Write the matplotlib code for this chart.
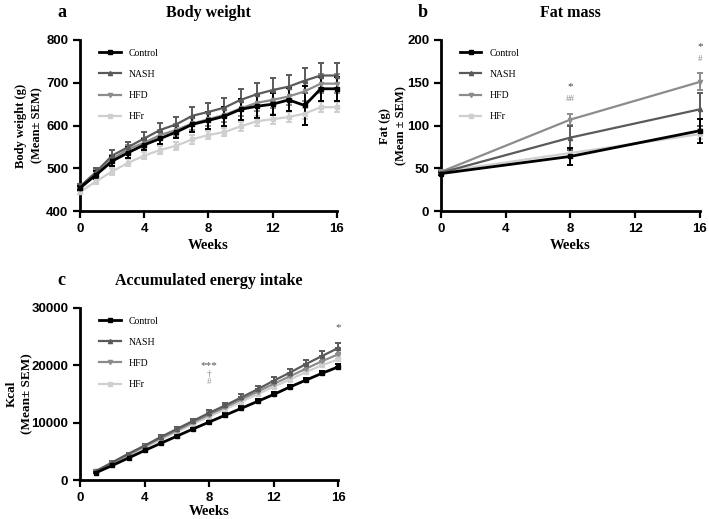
import matplotlib
matplotlib.use('Agg')
import matplotlib.pyplot as plt
from matplotlib.lines import Line2D

groups = ['Control', 'NASH', 'HFD', 'HFr']
colors = {'Control': '#000000', 'NASH': '#5a5a5a', 'HFD': '#8c8c8c', 'HFr': '#cfcfcf'}
markers = {'Control': 's', 'NASH': '^', 'HFD': 'v', 'HFr': 's'}

# panel a: body weight
bw_weeks = list(range(0, 17))
bw_mean = {
    'Control': [455, 485, 517, 537, 555, 570, 585, 603, 612, 622, 638, 645, 650, 660, 647, 686, 686],
    'NASH':    [458, 492, 530, 550, 570, 590, 603, 623, 632, 642, 660, 673, 683, 691, 705, 717, 717],
    'HFD':     [452, 488, 522, 545, 560, 578, 590, 605, 615, 625, 640, 653, 660, 668, 680, 698, 698],
    'HFr':     [445, 470, 493, 513, 530, 543, 553, 568, 578, 585, 598, 610, 615, 620, 628, 643, 643],
}
bw_sem = {
    'Control': [5, 10, 12, 12, 13, 14, 15, 18, 20, 22, 25, 27, 25, 27, 45, 28, 28],
    'NASH':    [6, 10, 12, 12, 14, 16, 18, 20, 20, 22, 25, 27, 28, 28, 30, 30, 30],
    'HFD':     [5, 8, 10, 10, 12, 12, 14, 15, 16, 17, 18, 20, 20, 20, 22, 22, 22],
    'HFr':     [5, 7, 8, 8, 8, 9, 9, 10, 10, 10, 10, 12, 12, 12, 12, 12, 12],
}

# panel b: fat mass
fat_weeks = [0, 8, 16]
fat_mean = {
    'Control': [44, 64, 94],
    'NASH':    [45, 86, 119],
    'HFD':     [46, 107, 151],
    'HFr':     [46, 68, 90],
}
fat_sem = {
    'Control': [2, 10, 14],
    'NASH':    [2, 14, 19],
    'HFD':     [2, 6, 10],
    'HFr':     [2, 4, 6],
}

# panel c: accumulated energy intake
kcal_weeks = list(range(1, 17))
kcal_mean = {
    'Control': [1300, 2550, 3850, 5150, 6400, 7650, 8900, 10100, 11300, 12500, 13700, 14900, 16200, 17400, 18600, 19700],
    'NASH':    [1600, 3100, 4600, 6000, 7500, 8900, 10300, 11700, 13000, 14400, 15800, 17300, 18700, 20200, 21600, 23000],
    'HFD':     [1550, 3000, 4450, 5850, 7300, 8650, 10050, 11400, 12700, 14050, 15400, 16750, 18050, 19400, 20700, 21900],
    'HFr':     [1500, 2900, 4300, 5700, 7050, 8400, 9750, 11050, 12350, 13650, 14950, 16250, 17500, 18800, 20000, 21000],
}
kcal_sem = {
    'Control': [100, 120, 150, 170, 200, 220, 250, 270, 300, 320, 350, 380, 400, 420, 450, 500],
    'NASH':    [100, 150, 200, 250, 300, 350, 400, 450, 500, 550, 600, 650, 700, 750, 850, 900],
    'HFD':     [100, 140, 180, 220, 260, 300, 340, 380, 420, 460, 500, 540, 580, 620, 660, 700],
    'HFr':     [100, 130, 160, 190, 220, 250, 280, 310, 340, 370, 400, 430, 460, 490, 520, 550],
}

serif = 'Liberation Serif'
sans = 'Liberation Sans'

fig = plt.figure(figsize=(7.09, 5.19), dpi=100)
ax_a = fig.add_axes([0.113, 0.593, 0.362, 0.330])
ax_b = fig.add_axes([0.622, 0.593, 0.365, 0.330])
ax_c = fig.add_axes([0.113, 0.075, 0.364, 0.332])


def draw(ax, x, means, sems, upper_only=False):
    for g in ['HFr', 'HFD', 'NASH', 'Control']:
        lw = 2.0 if g == 'Control' else 1.6
        yerr = [[0] * len(sems[g]), sems[g]] if upper_only else sems[g]
        ax.errorbar(x, means[g], yerr=yerr, color=colors[g], marker=markers[g],
                    markersize=3, lw=lw, elinewidth=1.4, capsize=2.5, capthick=1.4,
                    clip_on=False, zorder=3)
    handles = [Line2D([], [], color=colors[g], marker=markers[g], markersize=3,
                      lw=2.0 if g == 'Control' else 1.6) for g in groups]
    ax.legend(handles, groups, loc='upper left', frameon=False,
              prop={'family': serif, 'size': 7}, handlelength=2.2, labelspacing=1.25,
              bbox_to_anchor=(0.04, 1.0))


def style(ax, ylim, yticks, ylabel, letter, title, ylab_x, ylab_size=9, xlab_pad=3):
    ax.set_xlim(0, 16)
    ax.set_xticks([0, 4, 8, 12, 16])
    ax.set_ylim(*ylim)
    ax.set_yticks(yticks)
    for s in ['top', 'right']:
        ax.spines[s].set_visible(False)
    for s in ['left', 'bottom']:
        ax.spines[s].set_linewidth(2)
    ax.tick_params(width=1.6, length=5, direction='out')
    for lab in ax.get_xticklabels() + ax.get_yticklabels():
        lab.set_fontfamily(sans)
        lab.set_fontweight('bold')
        lab.set_fontsize(9.5)
    ax.set_xlabel('Weeks', fontfamily=serif, fontweight='bold', fontsize=10.5, labelpad=xlab_pad)
    ax.set_ylabel(ylabel, fontfamily=serif, fontweight='bold', fontsize=ylab_size, linespacing=1.45)
    ax.yaxis.set_label_coords(ylab_x, 0.5)
    ax.text(-0.09, 1.11, letter, transform=ax.transAxes, fontfamily=serif,
            fontweight='bold', fontsize=13, ha='left', va='bottom')
    ax.text(0.5, 1.11, title, transform=ax.transAxes, fontfamily=serif,
            fontweight='bold', fontsize=11.5, ha='center', va='bottom')


draw(ax_a, bw_weeks, bw_mean, bw_sem)
style(ax_a, (400, 800), [400, 500, 600, 700, 800], 'Body weight (g)\n(Mean± SEM)', 'a', 'Body weight', -0.145)

draw(ax_b, fat_weeks, fat_mean, fat_sem)
style(ax_b, (0, 200), [0, 50, 100, 150, 200], 'Fat (g)\n(Mean ± SEM)', 'b', 'Fat mass', -0.13)
ax_b.text(8, 146, '*', ha='center', va='center', fontsize=8, color='#444444', fontfamily=serif)
ax_b.text(8, 131, '##', ha='center', va='center', fontsize=6.5, color='#888888', fontfamily=serif)
ax_b.text(16, 192, '*', ha='center', va='center', fontsize=8, color='#444444', fontfamily=serif, clip_on=False)
ax_b.text(16, 178, '#', ha='center', va='center', fontsize=6.5, color='#888888', fontfamily=serif, clip_on=False)

draw(ax_c, kcal_weeks, kcal_mean, kcal_sem, upper_only=True)
style(ax_c, (0, 30000), [0, 10000, 20000, 30000], 'Kcal\n(Mean± SEM)', 'c', 'Accumulated energy intake',
      -0.18, ylab_size=9.5, xlab_pad=1)
ax_c.text(8, 19900, '***', ha='center', va='center', fontsize=8, color='#555555', fontfamily=serif)
ax_c.text(8, 18500, '†', ha='center', va='center', fontsize=7, color='#888888', fontfamily=serif)
ax_c.text(8, 17000, '#', ha='center', va='center', fontsize=6.5, color='#999999', fontfamily=serif)
ax_c.text(16, 26600, '*', ha='center', va='center', fontsize=8, color='#555555', fontfamily=serif)

fig.savefig('out.png', dpi=100)
